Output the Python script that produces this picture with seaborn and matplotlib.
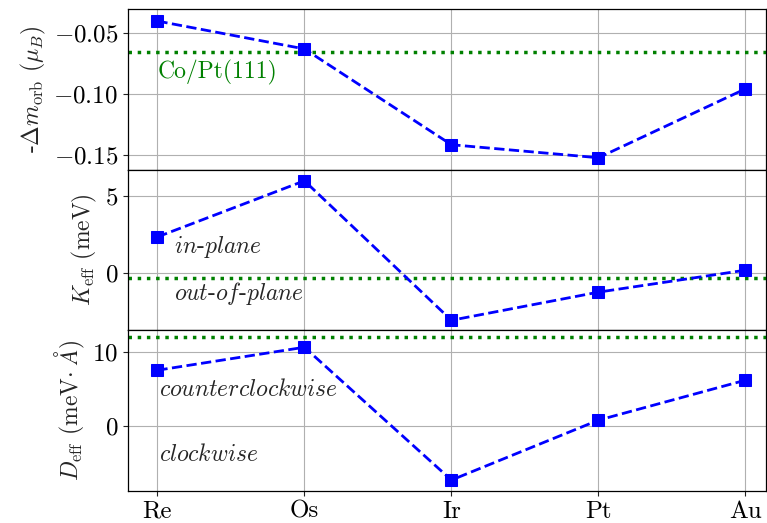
import numpy as np
import matplotlib
matplotlib.use('Agg')
import matplotlib.pyplot as plt
import seaborn as sns

elements = ['Re', 'Os', 'Ir', 'Pt', 'Au']
dm_orb = [-0.0402, -0.0631, -0.1418, -0.1525, -0.0959]
k_eff = [2.34, 5.97, -3.05, -1.23, 0.19]
d_eff = [7.57, 10.68, -7.30, 0.81, 6.22]
# Co/Pt(111) reference values
ref_dm_orb = -0.0656
ref_k_eff = -0.32
ref_d_eff = 12.03

sns.set_style('whitegrid')
plt.rcParams.update({
    'font.family': 'serif',
    'font.serif': ['cmr10'],
    'mathtext.fontset': 'cm',
    'axes.formatter.use_mathtext': True,
    'font.size': 17,
    'axes.labelsize': 17,
    'xtick.labelsize': 18,
    'ytick.labelsize': 18,
    'axes.edgecolor': 'black',
    'axes.linewidth': 0.9,
    'grid.color': '#b0b0b0',
    'grid.linewidth': 0.8,
    'xtick.bottom': True,
    'ytick.left': True,
    'xtick.color': '#222222',
    'ytick.color': '#222222',
    'xtick.labelcolor': 'black',
    'ytick.labelcolor': 'black',
})

x = np.arange(len(elements))

fig, axes = plt.subplots(3, 1, figsize=(7.67, 5.23), dpi=100, sharex=True)
fig.subplots_adjust(left=128/767, right=766/767, top=1 - 9/523, bottom=1 - 491/523, hspace=0)

series = [dm_orb, k_eff, d_eff]
refs = [ref_dm_orb, ref_k_eff, ref_d_eff]
for ax, vals, ref in zip(axes, series, refs):
    ax.axhline(ref, color='green', ls=':', lw=2.5, zorder=2)
    sns.lineplot(x=x, y=vals, ax=ax, color='blue', marker='s', linestyle='--',
                 lw=2, markersize=9, markeredgecolor='blue', zorder=3)
    ax.grid(True)
    ax.set_xlim(-0.2, 4.14)

ax1, ax2, ax3 = axes
ax1.set_ylim(-0.1623, -0.0303)
ax1.set_yticks([-0.15, -0.10, -0.05])
ax1.set_ylabel(r'-$\Delta m_{\rm orb}$ ($\mu_B$)')
ax1.text(0.0, -0.0828, 'Co/Pt(111)', color='green', va='center', ha='left')

ax2.set_ylim(-3.70, 6.69)
ax2.set_yticks([0, 5])
ax2.set_ylabel(r'$K_{\rm eff}$ (meV)')
ax2.text(0.11, 1.69, r'$\mathit{in}$-$\mathit{plane}$', va='center', ha='left')
ax2.text(0.11, -1.30, r'$\mathit{out}$-$\mathit{of}$-$\mathit{plane}$', va='center', ha='left')

ax3.set_ylim(-8.78, 12.97)
ax3.set_yticks([0, 10])
ax3.set_ylabel(r'$D_{\rm eff}$ (meV$\cdot$ $\AA$)')
ax3.text(0.014, 4.86, r'$\mathit{counterclockwise}$', va='center', ha='left')
ax3.text(0.014, -3.92, r'$\mathit{clockwise}$', va='center', ha='left')

ax3.set_xticks(x)
ax3.set_xticklabels(elements)

fig.savefig('out.png', dpi=100)
